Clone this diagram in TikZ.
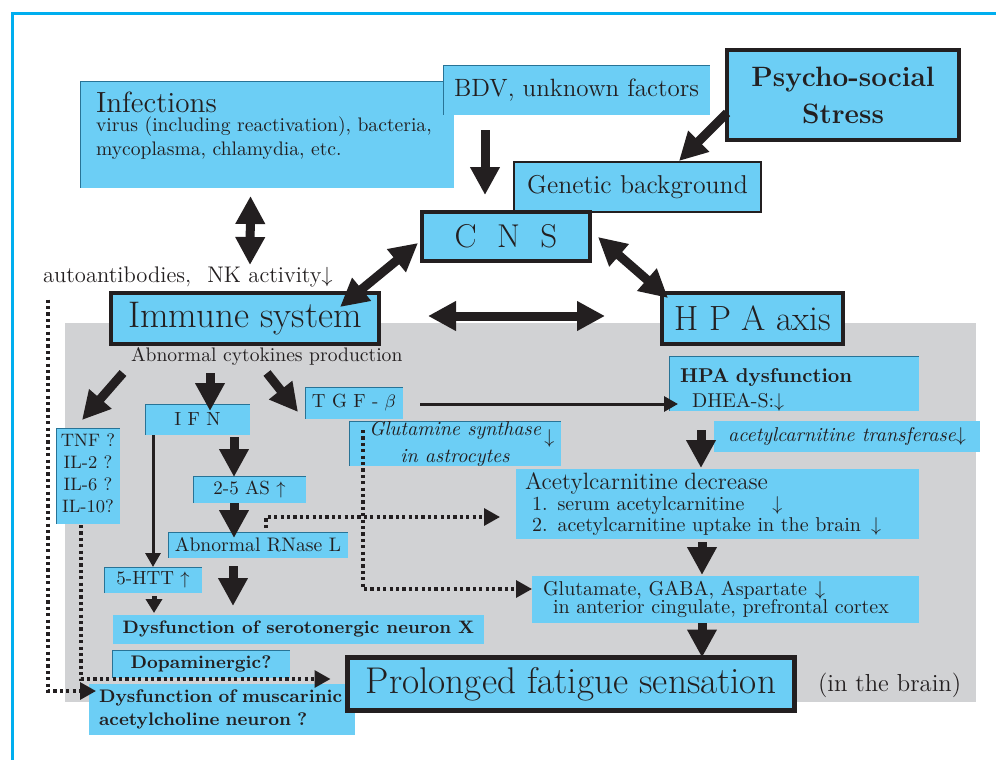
\documentclass[tikz,border=0pt]{standalone}
\usetikzlibrary{arrows.meta,calc}
\definecolor{boxblue}{RGB}{108,206,245}
\definecolor{edgeblue}{RGB}{40,115,150}
\definecolor{brainbg}{RGB}{209,210,212}
\definecolor{framecyan}{RGB}{0,174,239}
\definecolor{ink}{RGB}{35,31,32}
\newcommand{\setfs}[2]{\fontsize{#1}{#2}\selectfont}
\tikzset{
  every node/.style={inner sep=0pt, outer sep=0pt, text=ink},
  plainbox/.style={fill=boxblue, anchor=north west, align=center},
  cbox/.style={plainbox, path picture={\draw[edgeblue,line width=1.2pt]
      (path picture bounding box.south west) -- (path picture bounding box.north west)
      -- (path picture bounding box.north east);}},
  heavybox/.style={plainbox, draw=ink, line width=1.8pt},
  lbl/.style={anchor=base west},
  bigarrow/.style={ink, line width=4.5pt, -{Triangle[length=14pt,width=14pt]}},
  twoway/.style={ink, line width=4.5pt, {Triangle[length=14pt,width=14pt]}-{Triangle[length=14pt,width=14pt]}},
  midarrow/.style={ink, line width=2.5pt, -{Triangle[length=7pt,width=8pt]}},
  thinarrow/.style={ink, line width=1.5pt, -{Triangle[length=7pt,width=7.5pt]}},
  dotarrow/.style={ink, line width=1.6pt, dash pattern=on 1.6pt off 1.6pt, -{Triangle[length=8pt,width=8.5pt]}}
}

\begin{document}
\begin{tikzpicture}[x=0.5pt,y=-0.5pt]
  \useasboundingbox (0,0) rectangle (996,760);
  \fill[brainbg] (65,323) rectangle (976,702);
  \draw[framecyan,line width=1.5pt] (12,764) -- (12,13) -- (1000,13);

  % causes
  \node[cbox, align=left, text width=171pt, inner xsep=8pt, minimum height=53.5pt,
    text depth=32.6pt, font=\setfs{9.8}{12}] (infect) at (80,81)
    {{\setfs{14.6}{16}Infections}\\[-2.5pt]
     virus (including reactivation), bacteria,\\
     mycoplasma, chlamydia, etc.};
  \node[cbox, minimum width=133.5pt, minimum height=25pt, font=\setfs{12.5}{14}] (bdv) at (443,65)
    {BDV, unknown factors};
  \node[heavybox, minimum width=116pt, minimum height=45pt, font=\bfseries\setfs{14}{18.5}] (stress) at (727,50)
    {Psycho-social\\Stress};
  \node[plainbox, draw=ink, line width=1pt, minimum width=123.5pt, minimum height=25pt,
    font=\setfs{12.9}{14}] (gene) at (514,162) {Genetic background};
  \node[heavybox, minimum width=84pt, minimum height=24.5pt, font=\setfs{16.5}{18}] (cns) at (422,212)
    {C\hspace{0.62em}N\hspace{0.62em}S};
  \node[heavybox, minimum width=134pt, minimum height=25.5pt, font=\setfs{18.5}{20}] (immune) at (111,293)
    {Immune system};
  \node[heavybox, minimum width=90.5pt, minimum height=25.5pt, font=\setfs{17.5}{20}] (hpa) at (662,293)
    {H P A axis};
  \node[lbl, font=\setfs{11.3}{12}] (auto) at (43,282)
    {autoantibodies,\hspace{8pt}NK activity$\downarrow$};
  \node[lbl, font=\setfs{9.8}{12}] (cyto) at (131,361) {Abnormal cytokines production};

  % in the brain
  \node[cbox, minimum width=32pt, minimum height=48pt, text depth=3pt, font=\setfs{9}{11}] (tnf) at (56,428)
    {TNF ?\\IL-2 ?\\IL-6 ?\\IL-10?};
  \node[cbox, minimum width=52.5pt, minimum height=15.5pt, font=\setfs{9.5}{11}] (ifn) at (145,404) {I F N};
  \node[cbox, minimum width=49pt, minimum height=16pt, font=\setfs{9.5}{11}] (tgf) at (305,387) {T G F - $\beta$};
  \node[cbox, minimum width=106pt, minimum height=20pt, font=\itshape\setfs{10}{9}] (gluts) at (349,421)
    {Glutamine synthase\rlap{\raisebox{-4pt}{$\,\downarrow$}}\\in astrocytes};
  \node[cbox, align=left, text width=114pt, inner xsep=5.5pt, minimum height=27.5pt, text height=13pt,
    font=\setfs{10}{12.5}] (hpad) at (669,356)
    {{\bfseries HPA dysfunction}\\\hspace*{6pt}DHEA-S:$\downarrow$};
  \node[plainbox, minimum width=133pt, minimum height=15.5pt, font=\itshape\setfs{10}{11}] (actrans) at (714,421)
    {acetylcarnitine transferase$\downarrow$};
  \node[plainbox, align=left, text width=192.5pt, inner xsep=4.5pt, minimum height=35pt,
    font=\setfs{10}{10.5}] (acdec) at (516,469)
    {{\setfs{11.8}{10.5}Acetylcarnitine decrease}\\
     \hspace*{3.5pt}1. serum acetylcarnitine\hspace{14pt}$\downarrow$\\
     \hspace*{3.5pt}2. acetylcarnitine uptake in the brain\hspace{5pt}$\downarrow$};
  \node[plainbox, align=left, text width=182.5pt, inner xsep=5.5pt, minimum height=23.5pt,
    font=\setfs{10}{9}] (glut) at (532,576)
    {Glutamate, GABA, Aspartate\hspace{4pt}$\downarrow$\\
     \hspace*{5pt}in anterior cingulate, prefrontal cortex};
  \node[cbox, minimum width=56.5pt, minimum height=13.5pt, font=\setfs{9.5}{11}] (as25) at (193,476)
    {2-5 AS $\uparrow$};
  \node[cbox, minimum width=90pt, minimum height=13pt, font=\setfs{9.8}{11}] (rnase) at (168,532)
    {Abnormal RNase L};
  \node[cbox, minimum width=49pt, minimum height=13pt, font=\setfs{9.5}{11}] (htt) at (104,567)
    {5-HTT $\uparrow$};
  \node[plainbox, minimum width=185.5pt, minimum height=14.5pt, font=\bfseries\setfs{9}{11}] (sero) at (113,615)
    {Dysfunction of serotonergic neuron X};
  \node[cbox, minimum width=89pt, minimum height=14pt, font=\bfseries\setfs{9.1}{11}] (dopa) at (112,650)
    {Dopaminergic?};
  \node[plainbox, align=left, text width=123pt, inner xsep=5pt, minimum height=25.5pt,
    font=\bfseries\setfs{9.1}{11.5}] (musc) at (89,684)
    {Dysfunction of muscarinic\\acetylcholine neuron ?};
  \node[heavybox, line width=2.5pt, minimum width=223.5pt, minimum height=26.5pt, font=\setfs{18.6}{20}] (fatigue)
    at (347.5,657.5) {Prolonged fatigue sensation};
  \node[lbl, font=\setfs{12.3}{13}] (brainlbl) at (818,691) {(in the brain)};

  % connectors
  \draw[twoway] ($(infect.south)+(-16.5,8)$) -- ($(immune.north)+(5,-28)$);
  \draw[bigarrow] ($(bdv.south)+(-91.5,15)$) -- ($(cns.north)+(-21,-17)$);
  \draw[bigarrow] ($(stress.west)+(0,18)$) -- ($(gene.north)+(41.5,-1)$);
  \draw[twoway] ($(cns.south west)+(-4,-18)$) -- ($(immune.north east)+(-39,14)$);
  \draw[twoway] ($(cns.east)+(8,0.5)$) -- ($(hpa.north west)+(6,5)$);
  \draw[twoway] ($(immune.east)+(49,-2.5)$) -- ($(hpa.west)+(-57,-2.5)$);

  \draw[bigarrow] ($(cyto.south west)+(-8,8)$) -- ($(tnf.north)+(-6,-8)$);
  \draw[bigarrow] ($(cyto.south west)+(79,8)$) -- ($(ifn.north)+(12.5,7)$);
  \draw[bigarrow] ($(cyto.south west)+(136,8)$) -- ($(tgf.west)+(-7,9)$);
  \draw[thinarrow] ($(tgf.east)+(17,1)$) -- ($(hpad.west)+(9,20.5)$);
  \draw[bigarrow] ($(hpad.south)+(-93,19)$) -- ($(acdec.north)+(-16.5,-1)$);
  \draw[bigarrow] ($(acdec.south)+(-15.5,3)$) -- ($(glut.north)+(-23.5,-1)$);
  \draw[bigarrow] ($(glut.south)+(-23.5,0)$) -- ($(fatigue.north)+(131,0)$);
  \draw[bigarrow] ($(ifn.south)+(36.5,2)$) -- ($(as25.north)+(-15.5,1)$);
  \draw[bigarrow] ($(as25.south)+(-15.5,0)$) -- ($(rnase.north)+(-24,6)$);
  \draw[bigarrow] ($(rnase.south)+(-25,8)$) -- ($(sero.north)+(-65.5,-9)$);
  \draw[thinarrow] ($(ifn.south west)+(8,0)$) -- (htt.north);
  \draw[midarrow] ($(htt.south)+(1,3)$) -- ($(sero.north)+(-144.5,-2)$);

  \draw[dotarrow] ($(auto.south west)+(5,13)$) |- ($(musc.north west)+(7,7)$);
  \draw[dotarrow] ($(tnf.south)+(-7,1)$) |- ($(fatigue.west)+(-17,-5)$);
  \draw[dotarrow] ($(rnase.north)+(8,-4)$) |- ($(acdec.west)+(-16,13)$);
  \draw[dotarrow] ($(gluts.north west)+(14,9)$) |- ($(glut.west)+(0,-10.5)$);
\end{tikzpicture}
\end{document}
